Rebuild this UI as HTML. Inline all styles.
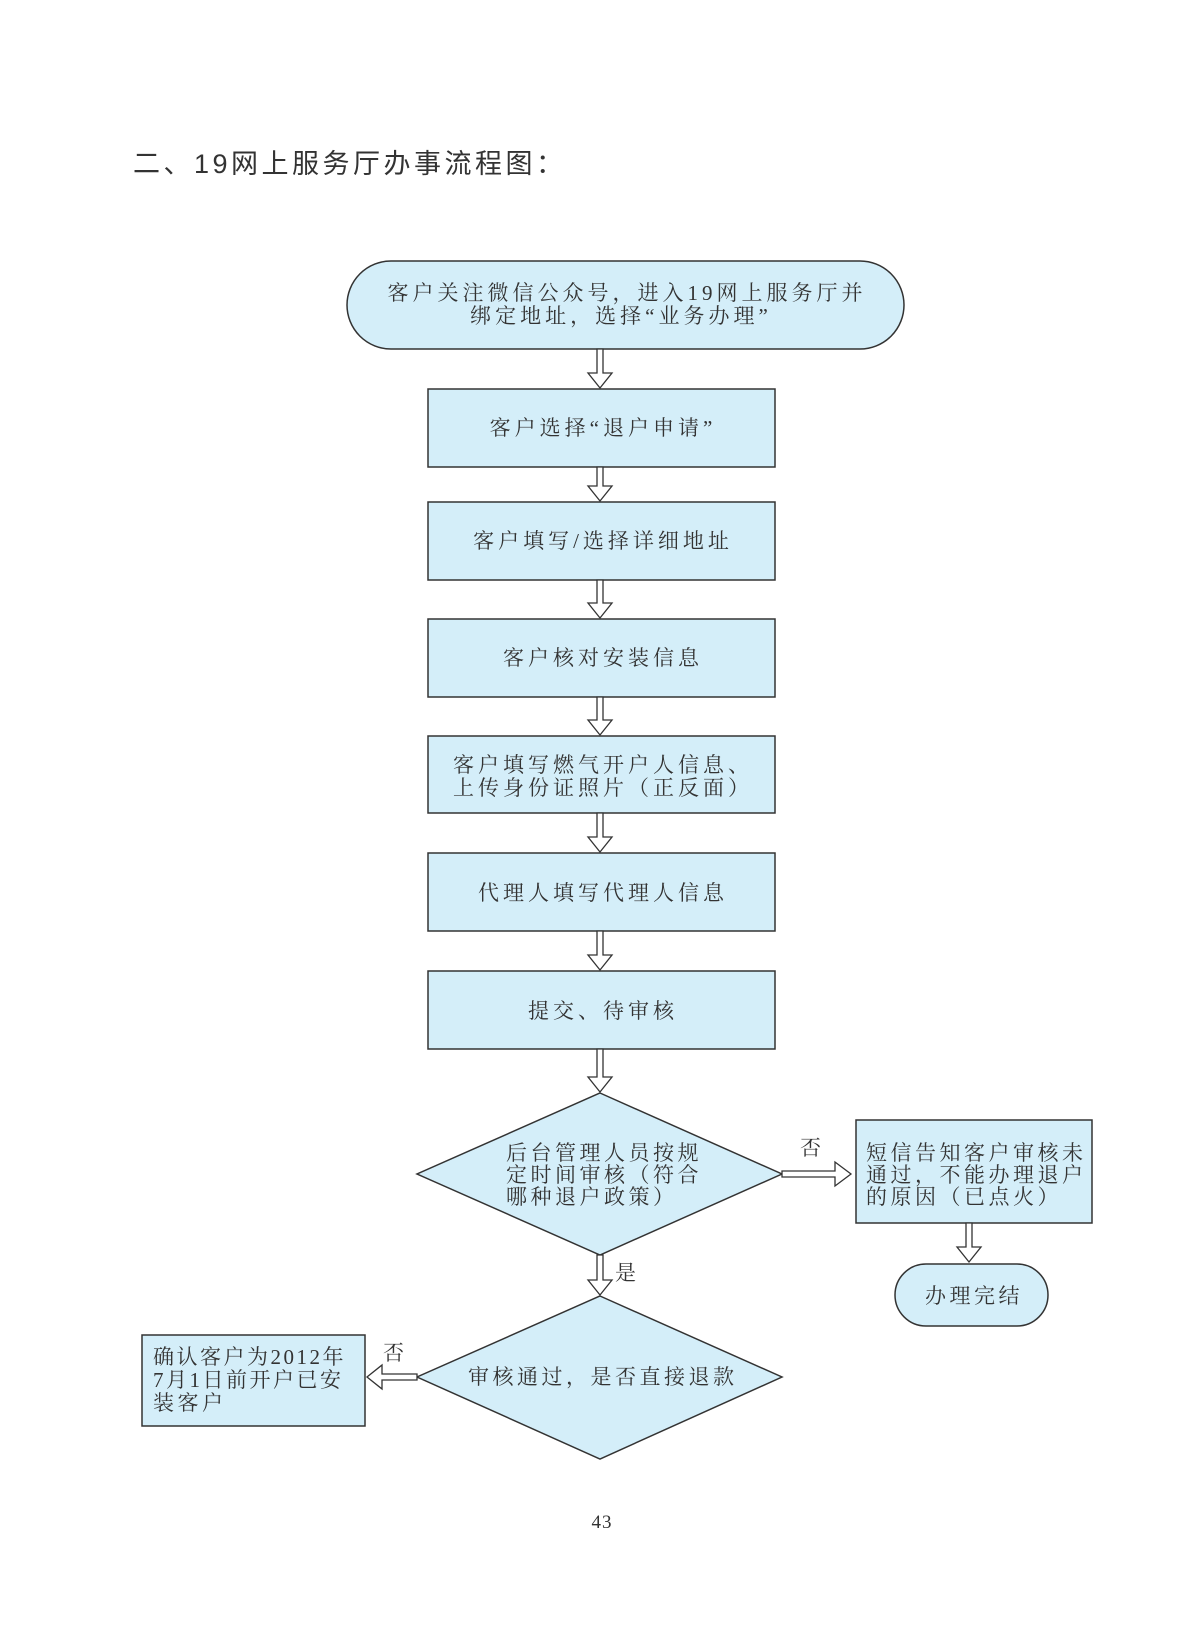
<!DOCTYPE html>
<html><head><meta charset="utf-8"><style>
html,body{margin:0;padding:0;background:#fff;}
svg{display:block}
text{font-family:"Liberation Serif","Noto Serif CJK SC",serif;fill:#333;}
</style></head><body>
<svg width="1204" height="1647" viewBox="0 0 1204 1647" xmlns="http://www.w3.org/2000/svg">
<text x="133" y="173" font-size="27" style="font-family:'Liberation Sans','Noto Sans CJK SC',sans-serif;letter-spacing:3.5px" fill="#222">二、19网上服务厅办事流程图：</text>
<g fill="#d4eef9" stroke="#333" stroke-width="1.5">
<rect x="347" y="261" width="557" height="88" rx="44"/>
<rect x="428" y="389" width="347" height="78"/>
<rect x="428" y="502" width="347" height="78"/>
<rect x="428" y="619" width="347" height="78"/>
<rect x="428" y="736" width="347" height="77"/>
<rect x="428" y="853" width="347" height="78"/>
<rect x="428" y="971" width="347" height="78"/>
<polygon points="600,1093 782,1174 600,1255 417,1174"/>
<rect x="856" y="1120" width="236" height="103"/>
<rect x="895" y="1264" width="153" height="62" rx="31"/>
<polygon points="600,1296 782,1377 600,1459 417,1377"/>
<rect x="142" y="1335" width="223" height="91"/>
</g>
<g fill="#fff" stroke="#333" stroke-width="1.3">
<polygon points="597,349 603,349 603,373 612,373 600,388 588,373 597,373"/>
<polygon points="597,467 603,467 603,486 612,486 600,501 588,486 597,486"/>
<polygon points="597,580 603,580 603,603 612,603 600,618 588,603 597,603"/>
<polygon points="597,697 603,697 603,720 612,720 600,735 588,720 597,720"/>
<polygon points="597,813 603,813 603,837 612,837 600,852 588,837 597,837"/>
<polygon points="597,931 603,931 603,955 612,955 600,970 588,955 597,955"/>
<polygon points="597,1049 603,1049 603,1077 612,1077 600,1092 588,1077 597,1077"/>
<polygon points="597,1255 603,1255 603,1280 612,1280 600,1295 588,1280 597,1280"/>
<polygon points="782,1171 782,1177 835,1177 835,1186 851,1174 835,1162 835,1171"/>
<polygon points="966,1223 972,1223 972,1247 981,1247 969,1262 957,1247 966,1247"/>
<polygon points="417,1374 417,1380 382,1380 382,1389 367,1377 382,1365 382,1374"/>
</g>
<g font-size="21" text-anchor="middle" style="letter-spacing:4px">
<text x="627" y="300">客户关注微信公众号，进入19网上服务厅并</text>
<text x="621" y="323">绑定地址，选择“业务办理”</text>
<text x="603" y="435">客户选择“退户申请”</text>
<text x="603" y="548">客户填写/选择详细地址</text>
<text x="603" y="665">客户核对安装信息</text>
<text x="603" y="772">客户填写燃气开户人信息、</text>
<text x="603" y="795">上传身份证照片（正反面）</text>
<text x="603" y="900">代理人填写代理人信息</text>
<text x="603" y="1018">提交、待审核</text>
</g>
<g font-size="21" style="letter-spacing:3.5px">
<text x="506" y="1160">后台管理人员按规</text>
<text x="506" y="1182">定时间审核（符合</text>
<text x="506" y="1204">哪种退户政策）</text>
<text x="866" y="1160">短信告知客户审核未</text>
<text x="866" y="1182">通过，不能办理退户</text>
<text x="866" y="1204">的原因（已点火）</text>
<text x="925" y="1303">办理完结</text>
<text x="468" y="1384">审核通过，是否直接退款</text>
<text x="153" y="1364" style="letter-spacing:2.5px">确认客户为2012年</text>
<text x="153" y="1387" style="letter-spacing:2.5px">7月1日前开户已安</text>
<text x="153" y="1410">装客户</text>
<text x="800" y="1155">否</text>
<text x="615" y="1280">是</text>
<text x="383" y="1360">否</text>
</g>
<text x="602" y="1528" font-size="19" text-anchor="middle" style="letter-spacing:1px">43</text>
</svg>
</body></html>
